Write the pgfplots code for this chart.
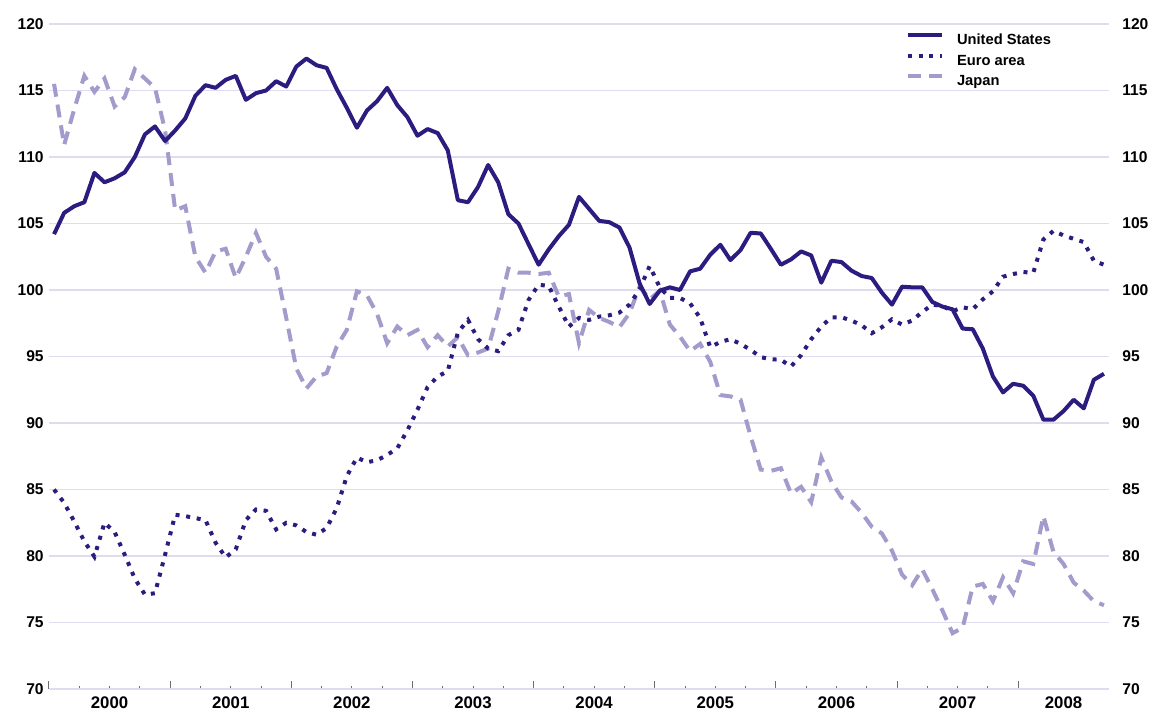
\documentclass[border=0pt]{standalone}
\usepackage{fontspec}
\setmainfont{Liberation Sans}
\usepackage{pgfplots}
\usepackage{pgfplotstable}
\pgfplotsset{compat=1.18}
\definecolor{usc}{RGB}{44,28,128}
\definecolor{jpc}{RGB}{164,154,204}
\definecolor{gridc}{RGB}{222,220,238}
\definecolor{tickc}{RGB}{110,110,110}
\pgfplotstableread{
x us eu jp
0.5 104.2 85.0 115.5
1.5 105.8 84.0 110.9
2.5 106.3 82.6 113.6
3.5 106.6 81.1 116.1
4.5 108.8 79.95 114.9
5.5 108.1 82.5 115.9
6.5 108.4 81.8 113.8
7.5 108.85 80.1 114.5
8.5 110.0 78.3 116.6
9.5 111.7 77.1 115.9
10.5 112.3 77.2 115.2
11.5 111.2 80.1 112.0
12.5 112.0 83.1 106.0
13.5 112.9 83.0 106.3
14.5 114.6 82.85 102.5
15.5 115.4 82.7 101.3
16.5 115.2 81.0 102.9
17.5 115.8 79.9 103.1
18.5 116.1 80.5 100.9
19.5 114.3 82.7 102.5
20.5 114.8 83.5 104.3
21.5 115.0 83.4 102.5
22.5 115.7 82.0 101.6
23.5 115.3 82.5 97.9
24.5 116.8 82.3 94.1
25.5 117.4 81.8 92.6
26.5 116.9 81.6 93.5
27.5 116.7 82.1 93.75
28.5 115.1 83.6 95.75
29.5 113.7 86.0 97.0
30.5 112.2 87.4 99.9
31.5 113.5 87.05 99.6
32.5 114.2 87.2 98.2
33.5 115.2 87.6 96.0
34.5 113.9 88.1 97.25
35.5 113.0 89.45 96.6
36.5 111.6 91.0 97.0
37.5 112.1 92.7 95.7
38.5 111.8 93.5 96.6
39.5 110.5 93.9 95.75
40.5 106.75 96.8 96.45
41.5 106.6 97.75 95.1
42.5 107.75 96.3 95.3
43.5 109.4 95.6 95.6
44.5 108.1 95.4 98.4
45.5 105.7 96.6 101.6
46.5 105.0 97.0 101.3
47.5 103.45 99.25 101.3
48.5 101.9 100.4 101.2
49.5 103.05 100.3 101.3
50.5 104.05 98.75 99.5
51.5 104.9 97.25 99.7
52.5 107.0 97.9 96.0
53.5 106.1 97.75 98.5
54.5 105.2 98.0 97.9
55.5 105.1 98.1 97.6
56.5 104.7 98.3 97.2
57.5 103.2 98.9 98.25
58.5 100.5 100.05 100.25
59.5 98.95 101.8 99.3
60.5 99.95 100.2 99.95
61.5 100.2 99.4 97.4
62.5 100.0 99.4 96.5
63.5 101.4 99.0 95.4
64.5 101.6 97.9 95.95
65.5 102.65 95.7 94.6
66.5 103.4 96.1 92.1
67.5 102.25 96.3 92.0
68.5 103.0 95.95 91.75
69.5 104.3 95.5 89.0
70.5 104.25 94.95 86.5
71.5 103.1 94.8 86.4
72.5 101.9 94.75 86.6
73.5 102.3 94.25 84.7
74.5 102.9 95.1 85.2
75.5 102.6 96.3 84.05
76.5 100.55 97.25 87.4
77.5 102.2 97.95 85.6
78.5 102.1 97.95 84.4
79.5 101.45 97.7 84.1
80.5 101.05 97.35 83.25
81.5 100.9 96.75 82.2
82.5 99.8 97.2 81.7
83.5 98.9 97.8 80.4
84.5 100.25 97.4 78.6
85.5 100.2 97.7 77.8
86.5 100.2 98.35 79.0
87.5 99.1 98.9 77.5
88.5 98.75 98.8 75.9
89.5 98.55 98.4 74.2
90.5 97.1 98.7 74.6
91.5 97.05 98.55 77.7
92.5 95.6 99.3 77.9
93.5 93.5 99.9 76.6
94.5 92.3 101.0 78.4
95.5 92.95 101.2 77.2
96.5 92.8 101.35 79.6
97.5 92.05 101.3 79.4
98.5 90.25 103.8 83.0
99.5 90.25 104.45 80.3
100.5 90.9 104.1 79.4
101.5 91.75 103.85 78.0
102.5 91.1 103.6 77.4
103.5 93.25 102.2 76.6
104.5 93.7 101.9 76.3
}\data
\begin{document}
\begin{tikzpicture}
\begin{axis}[
  at={(0pt,0pt)}, anchor=south west,
  scale only axis, width=1060pt, height=665pt,
  xmin=0, xmax=105, ymin=70, ymax=120,
  axis x line*=bottom, axis y line*=left,
  x axis line style={draw=gridc, line width=1.2pt, -},
  y axis line style={draw=none},
  xtick={0,12,...,96}, xticklabels={},
  minor x tick num=3,
  extra x ticks={6,18,30,42,54,66,78,90,100.5},
  extra x tick labels={2000,2001,2002,2003,2004,2005,2006,2007,2008},
  extra x tick style={major tick length=0pt},
  tick align=inside,
  major tick length=8pt, minor tick length=3pt,
  xtick style={draw=tickc, line width=1pt},
  ytick={70,75,...,120},
  ytick style={draw=none},
  ymajorgrids, grid style={draw=gridc, line width=1.2pt},
  /pgf/number format/assume math mode=true,
  yticklabel style={font=\bfseries\fontsize{15.6}{18}\selectfont, xshift=-1.8pt},
  xticklabel style={font=\bfseries\fontsize{16.8}{19}\selectfont, yshift=-4pt},
  reverse legend,
  legend cell align=left,
  legend style={at={(0.8085,0.9872)}, anchor=north west, draw=none, fill=none,
    inner sep=0pt, outer sep=0pt, column sep=13pt, row sep=4.5pt,
    nodes={inner sep=0pt, text height=12pt, text depth=4pt,
      font=\bfseries\fontsize{14.7}{17}\selectfont}},
  legend image code/.code={\draw[#1] (0pt,5.5pt) -- (34pt,5.5pt);},
]
\addplot[jpc, line width=4pt, dash pattern=on 13pt off 8pt] table[x=x,y=jp]{\data};
\addlegendentry{Japan}
\addplot[usc, line width=4pt, dash pattern=on 4pt off 6.7pt] table[x=x,y=eu]{\data};
\addlegendentry{Euro area}
\addplot[usc, line width=4pt, line join=round] table[x=x,y=us]{\data};
\addlegendentry{United States}
\end{axis}
\begin{axis}[
  at={(0pt,0pt)}, anchor=south west,
  scale only axis, width=1060pt, height=665pt,
  xmin=0, xmax=105, ymin=70, ymax=120,
  hide x axis, axis y line*=right,
  y axis line style={draw=none},
  ytick={70,75,...,120}, ytick style={draw=none},
  /pgf/number format/assume math mode=true,
  yticklabel style={font=\bfseries\fontsize{15.6}{18}\selectfont, xshift=9.8pt},
]
\end{axis}
\pgfresetboundingbox
\path (-49pt,-24pt) rectangle (1104pt,689pt);
\end{tikzpicture}
\end{document}
